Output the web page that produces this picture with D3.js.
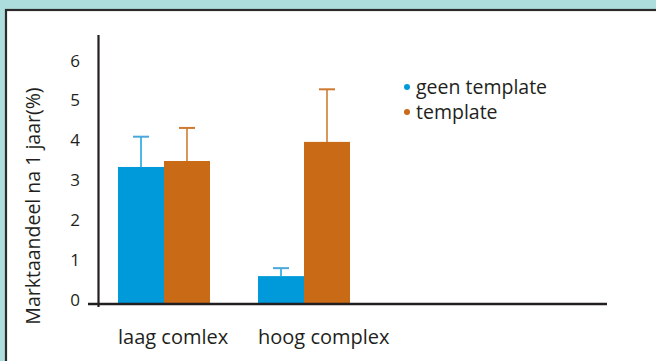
<!DOCTYPE html>
<html>
<head>
<meta charset="utf-8">
<script src="https://cdn.jsdelivr.net/npm/d3@7"></script>
<style>
  html, body { margin: 0; padding: 0; background: #aedddd; }
  svg { display: block; }
  text { font-family: "Open Sans", Lato, sans-serif; fill: #231f20; }
</style>
</head>
<body>
<svg id="chart" width="656" height="361"></svg>
<script>
const categories = ["laag comlex", "hoog complex"];
const seriesNames = ["geen template", "template"];
const geenTemplate = [3.44, 0.70];
const template = [3.59, 4.07];
const geenTemplateUpper = [4.20, 0.90];
const templateUpper = [4.42, 5.39];
const yTicks = [0, 1, 2, 3, 4, 5, 6];
const colors = ["#009ada", "#c96a17"];
const capColors = ["#4aa8dc", "#cf7a30"];

const svg = d3.select("#chart");

// panel
svg.append("rect").attr("x", 6).attr("y", 10).attr("width", 700).attr("height", 400)
  .attr("fill", "#ffffff").attr("stroke", "#2b2b2b").attr("stroke-width", 2.2);

const y = d3.scaleLinear().domain([0, 6]).range([304, 65]);
const x = d3.scaleBand().domain(categories).range([100, 368])
  .paddingInner(0.343).paddingOuter(0.1286);
const xs = d3.scaleBand().domain(seriesNames).range([0, x.bandwidth()]).padding(0);

const data = categories.map((c, i) => ({
  cat: c,
  vals: [
    { s: seriesNames[0], v: geenTemplate[i], up: geenTemplateUpper[i], k: 0 },
    { s: seriesNames[1], v: template[i], up: templateUpper[i], k: 1 }
  ]
}));

const g = svg.append("g");
const groups = g.selectAll("g.grp").data(data).join("g")
  .attr("transform", d => `translate(${x(d.cat)},0)`);

// error bars
groups.selectAll("line.whisk").data(d => d.vals).join("line")
  .attr("x1", d => xs(d.s) + xs.bandwidth() / 2)
  .attr("x2", d => xs(d.s) + xs.bandwidth() / 2)
  .attr("y1", d => y(d.v)).attr("y2", d => y(d.up))
  .attr("stroke", d => colors[d.k]).attr("stroke-width", 1.4);
groups.selectAll("line.cap").data(d => d.vals).join("line")
  .attr("x1", d => xs(d.s) + xs.bandwidth() / 2 - 8)
  .attr("x2", d => xs(d.s) + xs.bandwidth() / 2 + 8)
  .attr("y1", d => y(d.up)).attr("y2", d => y(d.up))
  .attr("stroke", d => capColors[d.k]).attr("stroke-width", 2);

// bars
groups.selectAll("rect").data(d => d.vals).join("rect")
  .attr("x", d => xs(d.s))
  .attr("width", xs.bandwidth())
  .attr("y", d => y(d.v))
  .attr("height", d => y(0) - y(d.v))
  .attr("fill", d => colors[d.k]);

// axes
svg.append("line").attr("x1", 98.5).attr("x2", 98.5)
  .attr("y1", 35).attr("y2", y(0) + 3)
  .attr("stroke", "#231f20").attr("stroke-width", 2.2);
svg.append("line").attr("x1", 88).attr("x2", 607)
  .attr("y1", y(0)).attr("y2", y(0))
  .attr("stroke", "#231f20").attr("stroke-width", 2.6);

// y tick labels
svg.selectAll("text.ytick").data(yTicks).join("text")
  .attr("class", "ytick")
  .attr("x", 80).attr("y", d => y(d) - 5)
  .attr("text-anchor", "end").attr("dominant-baseline", "central")
  .style("font-size", "17px")
  .text(d => d);

// x labels
svg.selectAll("text.xlab").data(categories).join("text")
  .attr("class", "xlab")
  .attr("x", d => x(d)).attr("y", 336)
  .attr("dominant-baseline", "central")
  .style("font-size", "20px")
  .text(d => d);

// y title
svg.append("text")
  .attr("transform", "translate(32,206) rotate(-90)")
  .attr("text-anchor", "middle").attr("dominant-baseline", "central")
  .style("font-size", "19.5px")
  .text("Marktaandeel na 1 jaar(%)");

// legend
const leg = svg.selectAll("g.leg").data(seriesNames).join("g")
  .attr("transform", (d, i) => `translate(407,${87 + i * 25})`);
leg.append("circle").attr("r", 3).attr("cx", 0).attr("cy", 0)
  .attr("fill", (d, i) => colors[i]);
leg.append("text").attr("x", 9).attr("y", -1)
  .attr("dominant-baseline", "central")
  .style("font-size", "19.5px")
  .text(d => d);
</script>
</body>
</html>
